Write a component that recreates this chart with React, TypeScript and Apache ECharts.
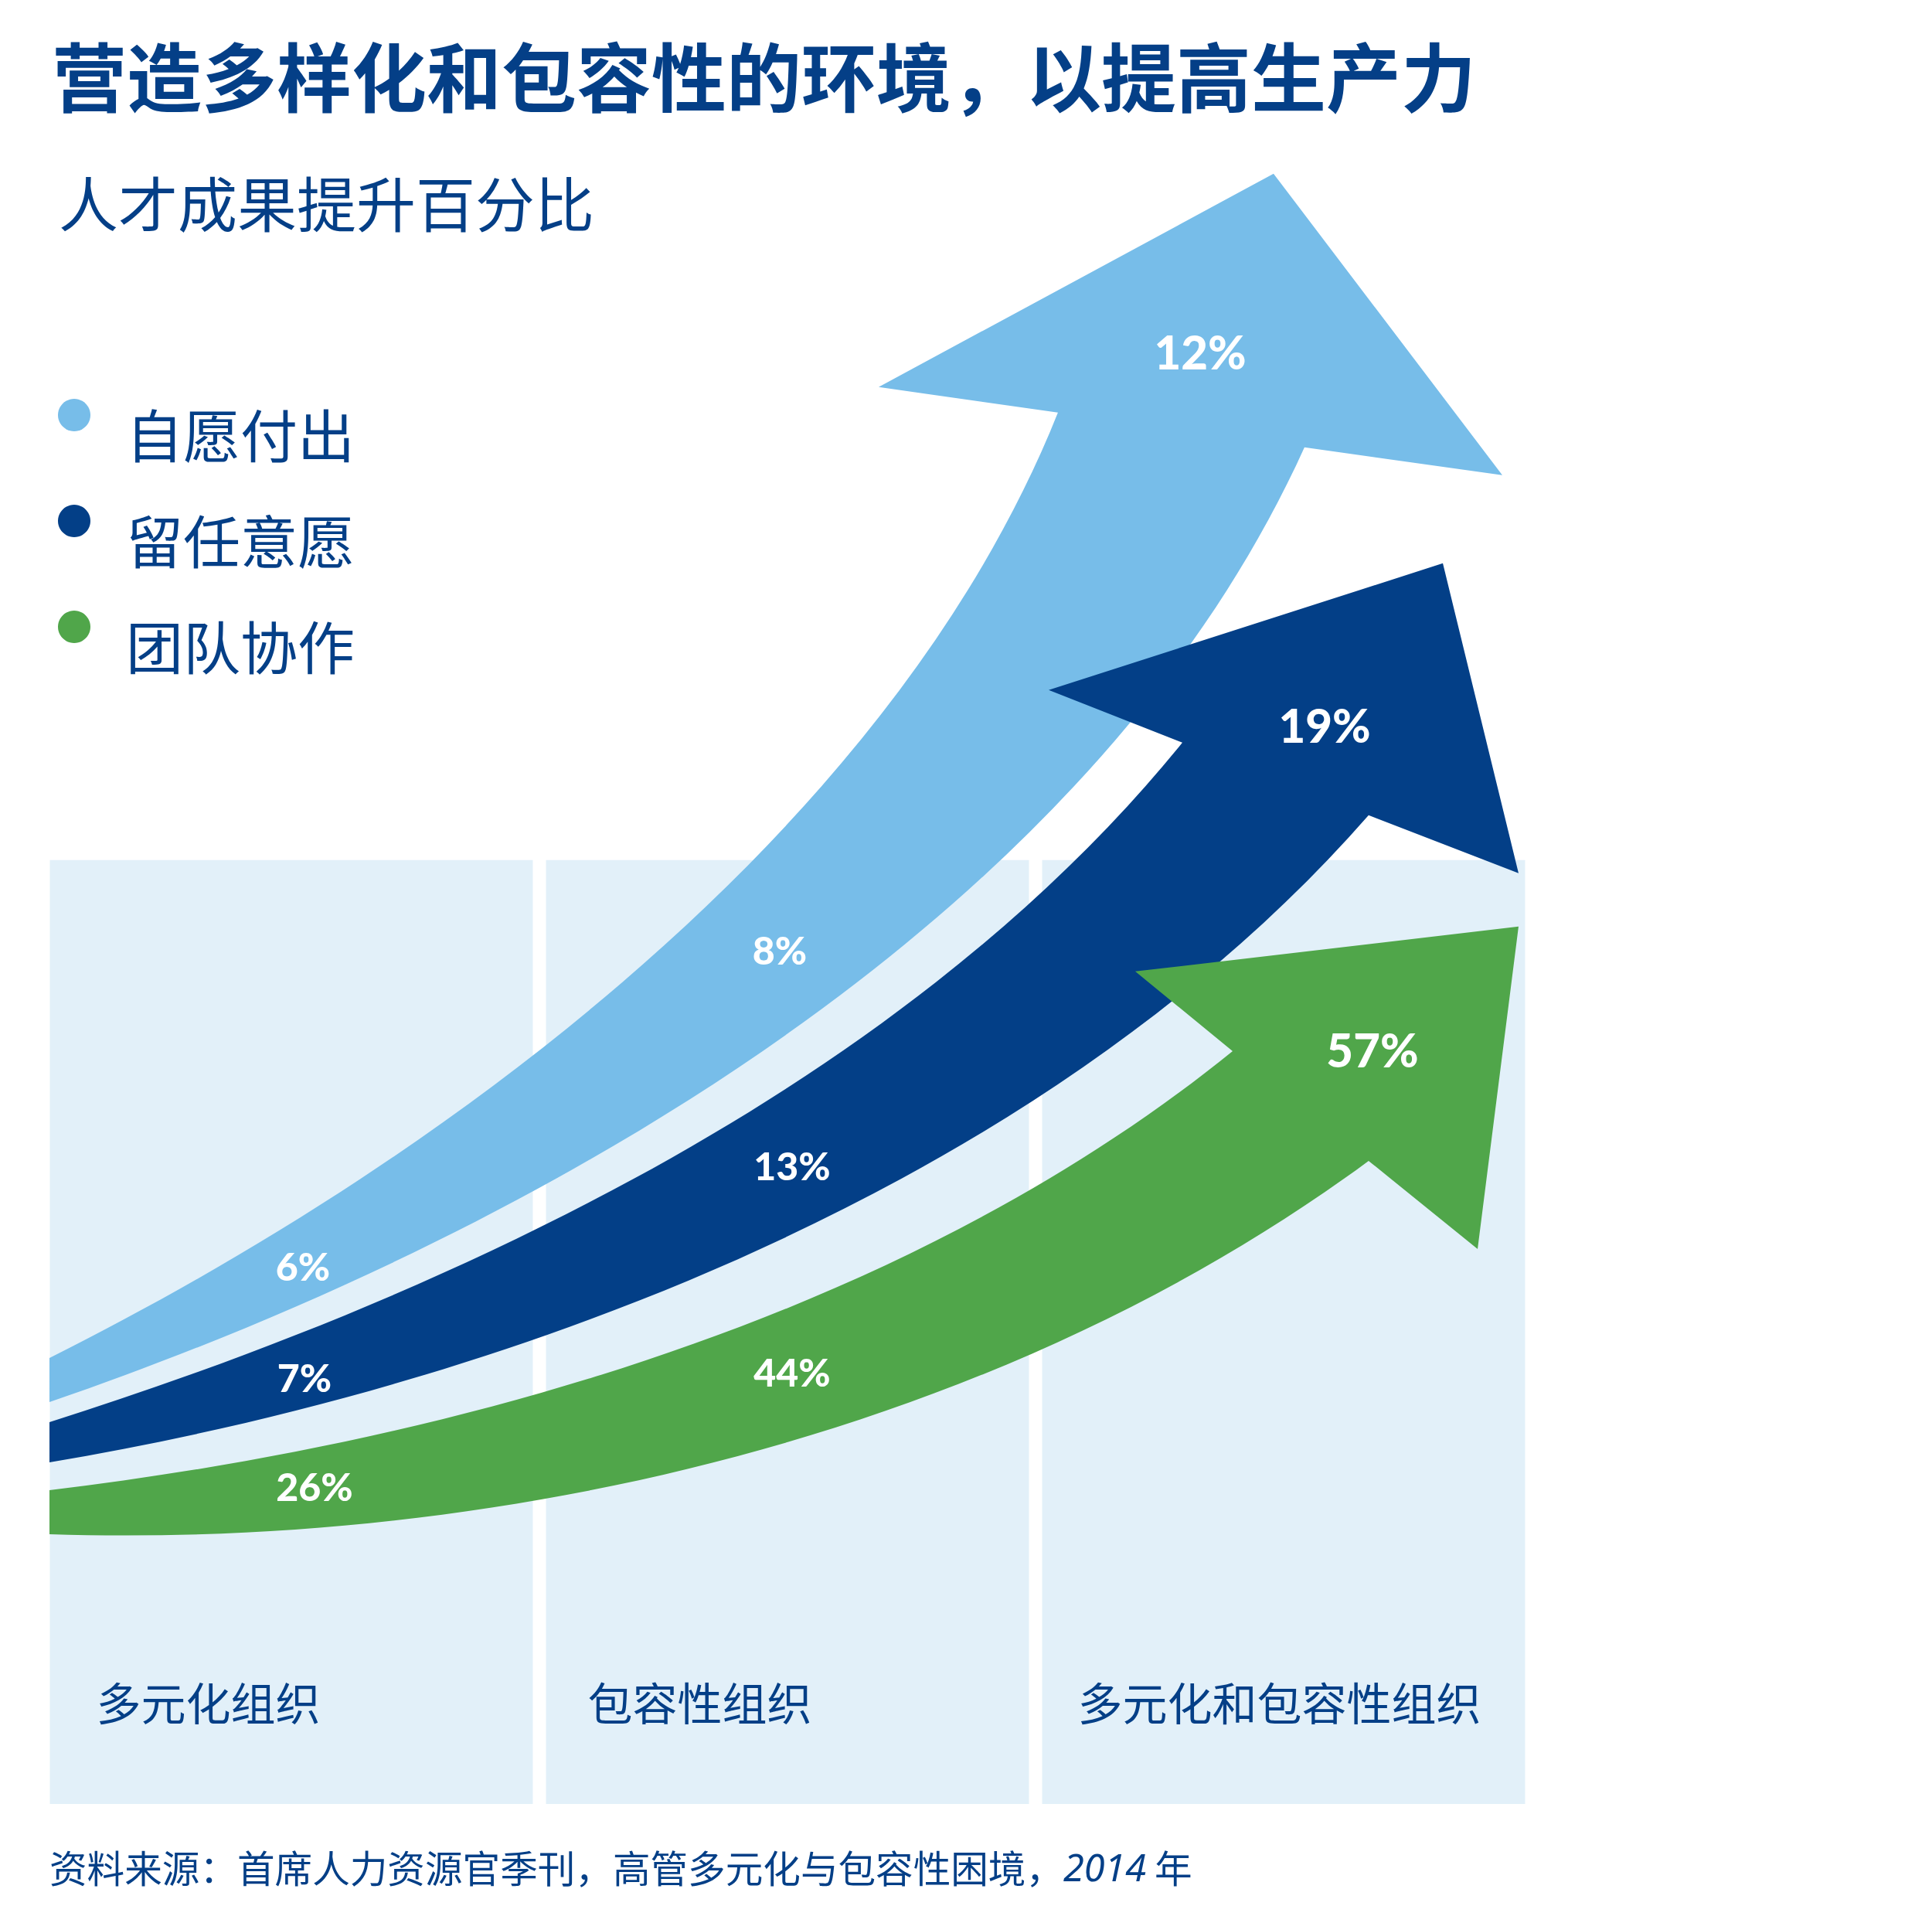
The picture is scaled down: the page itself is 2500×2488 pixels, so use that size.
import React, { useEffect, useRef } from 'react';
import * as echarts from 'echarts';

// ---------- texts ----------
const TITLE = '营造多样化和包容性的环境，以提高生产力';
const SUBTITLE = '人才成果提升百分比';
const SOURCE = '资料来源：首席人力资源官季刊，高管多元化与包容性困境，{i|2014} 年';

// ---------- data ----------
const CATEGORIES = ['多元化组织', '包容性组织', '多元化和包容性组织'];
const SERIES_NAMES = ['自愿付出', '留任意愿', '团队协作'];
const VOLUNTARY_EFFORT = [6, 8, 12];
const RETENTION = [7, 13, 19];
const TEAMWORK = [26, 44, 57];

// ---------- layout (axis units: x = panel widths ×100, panel centres at 0/100/200; y = panel height ×100) ----------
const PANEL_HEIGHT = 100;
const CAT_LABEL_DX = [60, 54, 46];
const LABEL_SIZES = [50, 50, 60];

const COLORS = ['#77bde9', '#033f87', '#50a64a'];
const PANEL_COLOR = '#e2f0f9';
const TEXT_COLOR = '#043f87';
const CJK = '"Noto Sans CJK SC", "Noto Sans", sans-serif';
const NUM_FONT = 'Lato, "Noto Sans", sans-serif';

// arrow outlines: traced guide points of each edge (a smooth cubic is fitted through them)
const LB_SHAPE = {
  top: [[-48.75, 47.26], [-26.95, 52.5], [-11.06, 56.59], [11.53, 65.11], [23.52, 69.7], [36.92, 75.18], [48.91, 79.52], [59.19, 84.36], [71.18, 89.76], [83.02, 95.66], [95.01, 101.06], [111.37, 110.07], [122.43, 117.2], [132.86, 125.14], [141.59, 132.27], [149.53, 140.62], [154.51, 147.42]],
  head: [[118.38, 150.12], [197.97, 172.73], [244.08, 140.79], [204.2, 143.73]],
  bottom: [[196.41, 134.73], [188.47, 127.6], [182.86, 123.42], [169.31, 114.5], [160.59, 109.25], [148.75, 102.54], [132.86, 95.17], [114.8, 87.71], [98.91, 81.82], [83.02, 76.41], [67.13, 71.42], [51.25, 65.52], [35.36, 60.93], [19.47, 56.76], [4.83, 52.5], [-19.0, 47.83], [-48.75, 42.59]],
};
const DB_SHAPE = {
  top: [[-48.75, 40.46], [-19.0, 45.37], [3.58, 50.12], [19.47, 53.4], [35.36, 57.17], [51.25, 61.34], [67.13, 66.01], [83.02, 71.01], [98.91, 76.0], [114.95, 81.65], [128.19, 86.24], [140.65, 91.24], [148.91, 95.09], [160.74, 100.66], [168.53, 105.0], [179.59, 112.45]],
  head: [[152.65, 118.02], [232.09, 131.45], [247.35, 98.61], [217.13, 104.75]],
  bottom: [[204.2, 96.97], [188.47, 89.19], [178.04, 84.68], [162.61, 79.12], [150.62, 74.77], [132.86, 69.37], [114.95, 64.37], [98.91, 60.36], [83.02, 56.59], [67.13, 53.15], [51.25, 49.39], [35.36, 46.52], [19.47, 44.06], [3.58, 41.77], [-19.0, 38.82], [-48.75, 36.2]],
};
const GR_SHAPE = {
  top: [[-48.75, 33.25], [-19.0, 35.05], [3.58, 37.18], [19.47, 39.31], [35.36, 41.61], [51.25, 43.82], [67.13, 46.6], [83.02, 49.22], [98.91, 52.58], [114.95, 55.94], [129.75, 59.46], [149.69, 64.78], [174.45, 73.46], [189.72, 79.77]],
  head: [[170.09, 88.21], [247.35, 92.96], [239.1, 58.8], [217.13, 68.14]],
  bottom: [[201.25, 62.33], [182.71, 56.02], [167.45, 51.92], [149.69, 47.83], [128.19, 43.33], [112.62, 40.46], [97.04, 38.17], [79.13, 35.71], [65.89, 33.74], [50.31, 32.27], [34.74, 30.88], [12.77, 29.4], [-11.99, 28.58], [-26.95, 28.34], [-48.75, 28.58]],
};

const LB_LABELS = [[2.34, 57.0], [98.44, 90.5], [183.18, 153.89]];
const DB_LABELS = [[2.65, 45.21], [100.93, 67.65], [208.26, 114.33]];
const GR_LABELS = [[4.67, 33.66], [100.93, 45.78], [217.91, 79.93]];

type Pt = number[];

// least-squares cubic Bezier through fixed end points (pixel space), with Newton re-parameterisation
function fitCubic(Q: Pt[]): Pt[] {
  const n = Q.length;
  const P0 = Q[0];
  const P3 = Q[n - 1];
  const t: number[] = [0];
  for (let i = 1; i < n; i++) t.push(t[i - 1] + Math.hypot(Q[i][0] - Q[i - 1][0], Q[i][1] - Q[i - 1][1]));
  for (let i = 0; i < n; i++) t[i] /= t[n - 1];
  let P1: Pt = P0;
  let P2: Pt = P3;
  const bez = (u: number) => {
    const a = 1 - u;
    return [0, 1].map((k) => a * a * a * P0[k] + 3 * a * a * u * P1[k] + 3 * a * u * u * P2[k] + u * u * u * P3[k]);
  };
  const d1 = (u: number) => {
    const a = 1 - u;
    return [0, 1].map((k) => 3 * a * a * (P1[k] - P0[k]) + 6 * a * u * (P2[k] - P1[k]) + 3 * u * u * (P3[k] - P2[k]));
  };
  const d2 = (u: number) => [0, 1].map((k) => 6 * (1 - u) * (P2[k] - 2 * P1[k] + P0[k]) + 6 * u * (P3[k] - 2 * P2[k] + P1[k]));
  for (let iter = 0; iter < 8; iter++) {
    let c11 = 0, c12 = 0, c22 = 0;
    const x1 = [0, 0];
    const x2 = [0, 0];
    for (let i = 0; i < n; i++) {
      const u = t[i];
      const a = 1 - u;
      const b0 = a * a * a, b1 = 3 * a * a * u, b2 = 3 * a * u * u, b3 = u * u * u;
      c11 += b1 * b1; c12 += b1 * b2; c22 += b2 * b2;
      for (let k = 0; k < 2; k++) {
        const r = Q[i][k] - b0 * P0[k] - b3 * P3[k];
        x1[k] += b1 * r; x2[k] += b2 * r;
      }
    }
    const det = c11 * c22 - c12 * c12;
    P1 = [0, 1].map((k) => (x1[k] * c22 - x2[k] * c12) / det);
    P2 = [0, 1].map((k) => (c11 * x2[k] - c12 * x1[k]) / det);
    for (let i = 1; i < n - 1; i++) {
      const b = bez(t[i]);
      const q1 = d1(t[i]);
      const q2 = d2(t[i]);
      const dx = [b[0] - Q[i][0], b[1] - Q[i][1]];
      const num = dx[0] * q1[0] + dx[1] * q1[1];
      const den = q1[0] * q1[0] + q1[1] * q1[1] + dx[0] * q2[0] + dx[1] * q2[1];
      if (den !== 0) t[i] = Math.min(1, Math.max(0, t[i] - num / den));
    }
  }
  return [P0, P1, P2, P3];
}

const f2 = (p: Pt) => `${p[0].toFixed(2)},${p[1].toFixed(2)}`;

function buildPath(shape: { top: Pt[]; head: Pt[]; bottom: Pt[] }, api: any): string {
  const top = fitCubic(shape.top.map((p) => api.coord(p)));
  const head = shape.head.map((p) => api.coord(p));
  const bottom = fitCubic([shape.head[3], ...shape.bottom].map((p) => api.coord(p)));
  let d = `M${f2(top[0])} C${f2(top[1])} ${f2(top[2])} ${f2(top[3])} `;
  head.forEach((p: Pt) => {
    d += `L${f2(p)} `;
  });
  d += `C${f2(bottom[1])} ${f2(bottom[2])} ${f2(bottom[3])} Z`;
  return d;
}

function makeArrowSeries(name: string, color: string, values: number[], shape: any, anchors: Pt[]) {
  return {
    type: 'custom',
    name,
    xAxisIndex: 1,
    yAxisIndex: 0,
    silent: true,
    z: 3,
    itemStyle: { color },
    data: values.map((v, i) => [i, v]),
    renderItem: (params: any, api: any) => {
      const i = params.dataIndex;
      const children: any[] = [];
      if (i === 0) {
        children.push({
          type: 'path',
          shape: { pathData: buildPath(shape, api) },
          style: { fill: color },
        });
      }
      const p = api.coord(anchors[i]);
      children.push({
        type: 'text',
        x: p[0],
        y: p[1],
        z2: 10,
        style: {
          text: `${api.value(1)}%`,
          fill: '#ffffff',
          fontSize: LABEL_SIZES[i],
          fontWeight: 900,
          fontFamily: NUM_FONT,
          align: 'center',
          verticalAlign: 'middle',
        },
      });
      return { type: 'group', children };
    },
  };
}

export default function App() {
  const ref = useRef<HTMLDivElement>(null);
  useEffect(() => {
    document.body.style.margin = '0';
    const chart = echarts.init(ref.current as HTMLDivElement, null, { renderer: 'svg' });
    const option: any = {
      animation: false,
      backgroundColor: '#ffffff',
      title: [
        {
          text: TITLE,
          left: 67,
          top: 46,
          padding: 0,
          textStyle: { fontSize: 97, fontWeight: 'bold', color: TEXT_COLOR, fontFamily: CJK },
        },
        {
          text: SUBTITLE,
          left: 76,
          top: 222,
          padding: 0,
          textStyle: { fontSize: 77, fontWeight: 'normal', color: TEXT_COLOR, fontFamily: CJK },
        },
        {
          text: SOURCE,
          left: 64,
          top: 2390,
          padding: 0,
          textStyle: {
            fontSize: 48.6,
            fontWeight: 'normal',
            color: TEXT_COLOR,
            fontFamily: CJK,
            rich: {
              i: { fontSize: 48.6, fontStyle: 'italic', color: TEXT_COLOR, fontFamily: '"Noto Sans", sans-serif' },
            },
          },
        },
      ],
      legend: {
        orient: 'vertical',
        left: 75,
        top: 477,
        padding: 0,
        itemWidth: 42,
        itemHeight: 42,
        itemGap: 17,
        icon: 'circle',
        selectedMode: false,
        data: SERIES_NAMES,
        formatter: '\n{name}',
        textStyle: {
          fontSize: 74,
          lineHeight: 46,
          color: TEXT_COLOR,
          fontFamily: CJK,
          padding: [0, 0, 0, 41],
        },
      },
      grid: { left: 56, right: 518, top: 197, bottom: 154, containLabel: false },
      xAxis: [
        { type: 'category', data: CATEGORIES, show: false, gridIndex: 0 },
        { type: 'value', min: -50, max: 250, show: false, gridIndex: 0 },
      ],
      yAxis: [{ type: 'value', min: 0, max: 175, show: false, gridIndex: 0 }],
      series: [
        {
          type: 'bar',
          name: 'panels',
          xAxisIndex: 0,
          yAxisIndex: 0,
          silent: true,
          z: 1,
          barCategoryGap: '2.65%',
          itemStyle: { color: PANEL_COLOR },
          data: CATEGORIES.map((c, i) => ({
            value: PANEL_HEIGHT,
            label: { offset: [CAT_LABEL_DX[i], -104.5] },
          })),
          label: {
            show: true,
            position: 'insideBottomLeft',
            distance: 0,
            formatter: '{b}',
            fontSize: 58,
            color: TEXT_COLOR,
            fontFamily: CJK,
          },
        },
        makeArrowSeries(SERIES_NAMES[0], COLORS[0], VOLUNTARY_EFFORT, LB_SHAPE, LB_LABELS),
        makeArrowSeries(SERIES_NAMES[1], COLORS[1], RETENTION, DB_SHAPE, DB_LABELS),
        makeArrowSeries(SERIES_NAMES[2], COLORS[2], TEAMWORK, GR_SHAPE, GR_LABELS),
      ],
    };
    chart.setOption(option);
    return () => chart.dispose();
  }, []);
  return <div ref={ref} style={{ width: 2500, height: 2488 }} />;
}
